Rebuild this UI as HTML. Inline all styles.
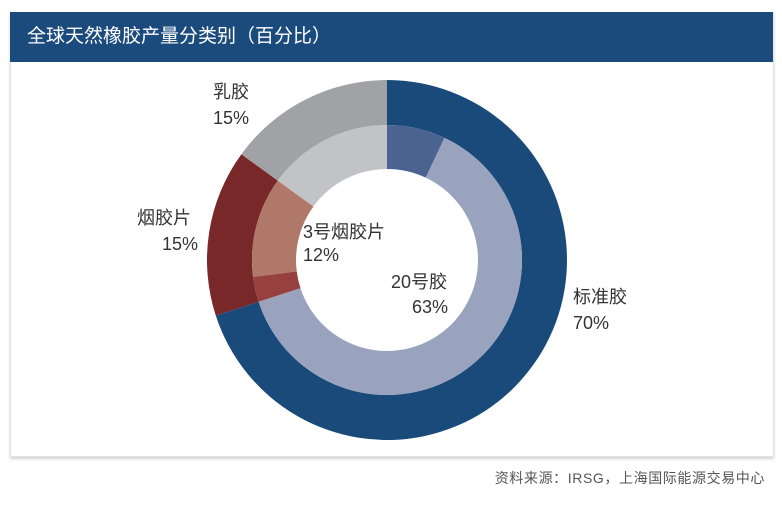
<!DOCTYPE html>
<html><head><meta charset="utf-8"><style>
html,body{margin:0;padding:0;background:#fff;}
body{width:782px;height:506px;position:relative;overflow:hidden;font-family:"Liberation Sans","Noto Sans CJK SC",sans-serif;}
.panel{position:absolute;left:10px;top:12px;width:762px;height:443px;background:#fff;box-shadow:0 2px 3px rgba(0,0,0,0.18);border:1px solid #e4e4e4;}
.hdr{position:absolute;left:10px;top:12px;width:763px;height:50px;background:#1b4b7c;color:#fff;font-size:19px;line-height:50px;text-indent:17px;}
.foot{position:absolute;right:17px;top:468px;font-size:14px;letter-spacing:0.6px;color:#555;}
</style></head><body>
<div class="panel"></div>
<div class="hdr">全球天然橡胶产量分类别（百分比）</div>
<svg width="782" height="506" style="position:absolute;left:0;top:0">
<g id="d"></g>
<g font-family="Liberation Sans, Noto Sans CJK SC, sans-serif" font-size="18" fill="#333">
<text x="213" y="98">乳胶</text><text x="213" y="124">15%</text>
<text x="137" y="224">烟胶片</text><text x="198" y="250" text-anchor="end">15%</text>
<text x="303" y="238">3号烟胶片</text><text x="303" y="261">12%</text>
<text x="391" y="288">20号胶</text><text x="412" y="313">63%</text>
<text x="573" y="303">标准胶</text><text x="573" y="329">70%</text>
</g>
</svg>
<div class="foot">资料来源：IRSG，上海国际能源交易中心</div>
<script>
var cx=387,cy=260;
function arc(r1,r2,a1,a2,c){function p(r,a){a=a*Math.PI/180;return [cx+r*Math.sin(a),cy-r*Math.cos(a)];}
var l=(a2-a1)>180?1:0,A=p(r2,a1),B=p(r2,a2),C=p(r1,a2),D=p(r1,a1);
return '<path d="M'+A+' A'+r2+' '+r2+' 0 '+l+' 1 '+B+' L'+C+' A'+r1+' '+r1+' 0 '+l+' 0 '+D+' Z" fill="'+c+'"/>';}
var s='';
s+=arc(135,180,0,252,'#1a4a7a');s+=arc(135,180,252,306,'#782828');s+=arc(135,180,306,360,'#a0a2a6');
s+=arc(91,135,0,25.2,'#4a6390');s+=arc(91,135,25.2,252,'#9aa3bd');s+=arc(91,135,252,262.8,'#964040');
s+=arc(91,135,262.8,306,'#b07868');s+=arc(91,135,306,360,'#c2c3c7');
document.getElementById('d').innerHTML=s;
</script>
</body></html>
